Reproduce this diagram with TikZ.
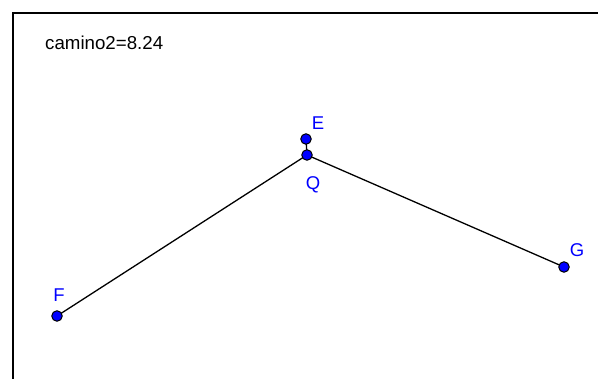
\documentclass[tikz,border=0pt]{standalone}
\usepackage{fontspec}
\setmainfont{Liberation Sans}
\definecolor{ptblue}{RGB}{0,0,255}
\tikzset{
  pt/.style={circle,fill=ptblue,draw=black,line width=1pt,inner sep=0pt,minimum size=10.5pt},
  lbl/.style={text=ptblue,font=\fontsize{18.5}{18.5}\selectfont,inner sep=0pt},
  seg/.style={line width=1.3pt,black}
}
\begin{document}
\begin{tikzpicture}[x=1pt,y=-1pt]
\useasboundingbox (0,0) rectangle (598,379);
\draw[line width=2pt] (13,380) -- (13,13) -- (599,13);
\node[anchor=west,inner sep=0pt,font=\fontsize{18.7}{18.7}\selectfont] (t) at (45,43) {camino2=8.24};
\coordinate (Ec) at (306,139);
\coordinate (Qc) at (307,155);
\coordinate (Fc) at (57,316);
\coordinate (Gc) at (564,267);
\draw[seg] (Fc) -- (Qc) -- (Gc);
\draw[seg] (Ec) -- (Qc);
\node[pt] (E) at (Ec) {};
\node[pt] (Q) at (Qc) {};
\node[pt] (F) at (Fc) {};
\node[pt] (G) at (Gc) {};
\node[lbl] (lE) at (318,123) {E};
\node[lbl] (lQ) at (313,185) {Q};
\node[lbl] (lF) at (59,295) {F};
\node[lbl] (lG) at (577,250) {G};
\end{tikzpicture}
\end{document}
